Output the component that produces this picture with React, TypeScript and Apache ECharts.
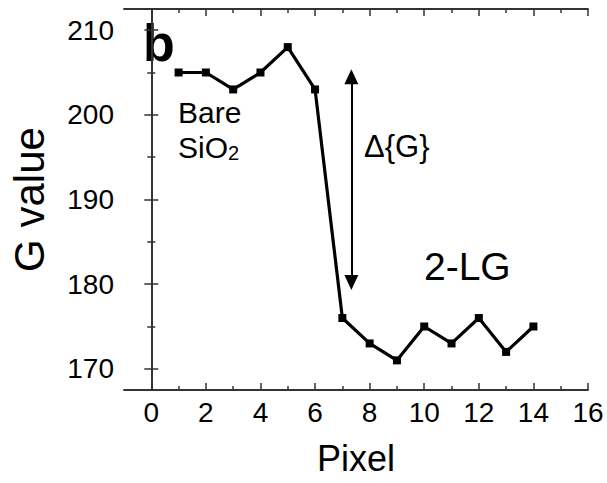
import React, { useEffect, useRef } from "react";
import * as echarts from "echarts";

const pixels = [1, 2, 3, 4, 5, 6, 7, 8, 9, 10, 11, 12, 13, 14];
const gValues = [205, 205, 203, 205, 208, 203, 176, 173, 171, 175, 173, 176, 172, 175];
const xMajor = [0, 2, 4, 6, 8, 10, 12, 14, 16];
const xMinor = [1, 3, 5, 7, 9, 11, 13, 15];
const yMajor = [170, 180, 190, 200, 210];
const yMinor = [175, 185, 195, 205];
const arrowX = 7.33;
const arrowTop = 204.5;
const arrowBottom = 180.2;

const FONT = "'Liberation Sans', Arial, Helvetica, sans-serif";
const FRAME = "#333";

export default function App() {
  const ref = useRef<HTMLDivElement>(null);
  useEffect(() => {
    if (!ref.current) return;
    const chart = echarts.init(ref.current, null, { renderer: "svg" });
    const xBase = { type: "value", min: -1, max: 16, splitLine: { show: false } };
    const yBase = { type: "value", min: 167.5, max: 212.5, splitLine: { show: false } };
    const line = { show: true, lineStyle: { color: FRAME, width: 1.8 } };
    const noLine = { show: false };
    const tick = (vals: number[], len: number) => ({
      show: true,
      inside: true,
      length: len,
      customValues: vals,
      lineStyle: { color: FRAME, width: 1.5 },
    });
    const noLabel = { show: false };
    chart.setOption({
      animation: false,
      grid: { left: 120, right: 19, top: 9, bottom: 93 },
      xAxis: [
        {
          ...xBase,
          position: "bottom",
          axisLine: line,
          axisTick: tick(xMajor, 7),
          axisLabel: {
            customValues: xMajor,
            color: "#000",
            fontSize: 28,
            fontFamily: FONT,
            margin: 8,
          },
          name: "Pixel",
          nameLocation: "middle",
          nameGap: 50,
          nameTextStyle: { color: "#000", fontSize: 36, fontFamily: FONT },
        },
        { ...xBase, position: "bottom", axisLine: noLine, axisTick: tick(xMinor, 4), axisLabel: noLabel },
        { ...xBase, position: "top", axisLine: line, axisTick: tick(xMajor, 7), axisLabel: noLabel },
        { ...xBase, position: "top", axisLine: noLine, axisTick: tick(xMinor, 4), axisLabel: noLabel },
      ],
      yAxis: [
        {
          ...yBase,
          position: "left",
          axisLine: line,
          axisTick: tick(yMajor, 7),
          axisLabel: {
            customValues: yMajor,
            color: "#000",
            fontSize: 28,
            fontFamily: FONT,
            margin: 10,
          },
          name: "G value",
          nameLocation: "middle",
          nameGap: 74,
          nameTextStyle: { color: "#000", fontSize: 42, fontFamily: FONT },
        },
        { ...yBase, position: "left", axisLine: noLine, axisTick: tick(yMinor, 4), axisLabel: noLabel },
        { ...yBase, position: "right", axisLine: line, axisTick: tick(yMajor, 7), axisLabel: noLabel },
        { ...yBase, position: "right", axisLine: noLine, axisTick: tick(yMinor, 4), axisLabel: noLabel },
      ],
      series: [
        {
          type: "line",
          xAxisIndex: 0,
          yAxisIndex: 0,
          data: pixels.map((p, i) => [p, gValues[i]]),
          symbol: "rect",
          symbolSize: 8,
          itemStyle: { color: "#000" },
          lineStyle: { color: "#000", width: 3.2 },
          markLine: {
            silent: true,
            symbol: ["triangle", "triangle"],
            symbolSize: [14, 15],
            label: { show: false },
            lineStyle: { color: "#000", width: 2, type: "solid" },
            data: [[{ coord: [arrowX, arrowTop] }, { coord: [arrowX, arrowBottom] }]],
          },
        },
      ],
      graphic: [
        {
          type: "text",
          left: 143,
          top: 17,
          style: { text: "b", font: `bold 52px ${FONT}`, fill: "#000" },
        },
        {
          type: "text",
          left: 178,
          top: 97,
          style: { text: "Bare", font: `30px ${FONT}`, fill: "#000" },
        },
        {
          type: "text",
          left: 178,
          top: 132,
          style: {
            text: "SiO{s|2}",
            font: `30px ${FONT}`,
            fill: "#000",
            rich: {
              s: { fontSize: 20, fontFamily: FONT, fill: "#000", verticalAlign: "bottom", padding: [12, 0, 0, 0] },
            },
          },
        },
        {
          type: "text",
          left: 364,
          top: 131,
          style: { text: "Δ{G}", font: `31px ${FONT}`, fill: "#000" },
        },
        {
          type: "text",
          left: 424,
          top: 247,
          style: { text: "2-LG", font: `39px ${FONT}`, fill: "#000" },
        },
      ],
    });
    return () => chart.dispose();
  }, []);
  return <div ref={ref} style={{ width: 607, height: 483, position: "absolute", left: 0, top: 0 }} />;
}
